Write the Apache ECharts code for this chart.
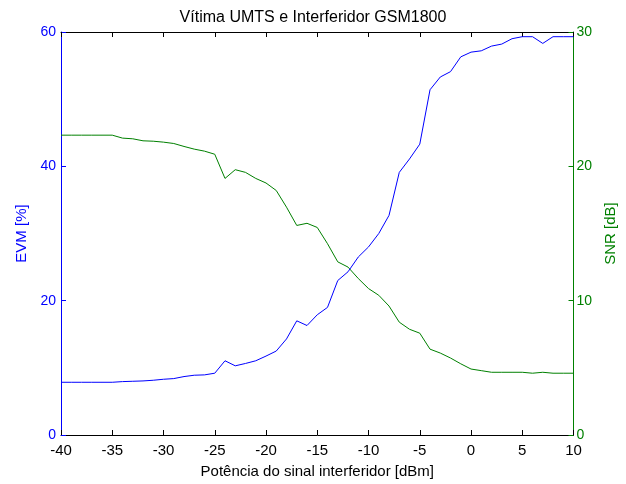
<!DOCTYPE html>
<html>
<head>
<meta charset="utf-8">
<script src="https://cdn.jsdelivr.net/npm/echarts@6/dist/echarts.min.js"></script>
<style>
  html, body { margin: 0; padding: 0; background: #fff; }
  #chart { width: 626px; height: 484px; }
</style>
</head>
<body>
<div id="chart"></div>
<script>
// Interferer power sweep, dBm (1 dB steps)
const power = [-40,-39,-38,-37,-36,-35,-34,-33,-32,-31,-30,-29,-28,-27,-26,-25,-24,-23,-22,-21,-20,
  -19,-18,-17,-16,-15,-14,-13,-12,-11,-10,-9,-8,-7,-6,-5,-4,-3,-2,-1,0,1,2,3,4,5,6,7,8,9,10];

// EVM of the UMTS victim, %
const evm = [7.85,7.85,7.85,7.85,7.85,7.85,7.95,8.0,8.05,8.15,8.3,8.4,8.7,8.9,8.95,9.2,11.05,10.3,10.65,11.05,11.75,
  12.5,14.3,17.0,16.3,17.9,19.0,23.0,24.3,26.5,28.0,30.0,32.7,39.1,41.1,43.3,51.4,53.3,54.1,56.3,57.0,
  57.2,57.9,58.2,59.0,59.3,59.3,58.3,59.3,59.3,59.3];

// SNR of the UMTS victim, dB
const snr = [22.32,22.32,22.32,22.32,22.32,22.32,22.1,22.05,21.9,21.87,21.8,21.7,21.48,21.28,21.13,20.9,19.1,19.75,19.55,19.1,18.76,
  18.2,16.96,15.6,15.76,15.45,14.24,12.89,12.5,11.65,10.9,10.4,9.6,8.4,7.87,7.58,6.39,6.1,5.73,5.3,4.91,
  4.79,4.67,4.67,4.67,4.67,4.6,4.67,4.6,4.6,4.6];

const titleText = 'Vítima UMTS e Interferidor GSM1800';
const xName = 'Potência do sinal interferidor [dBm]';
const yLeftName = 'EVM [%]';
const yRightName = 'SNR [dB]';

const BLUE = '#0000ff';
const GREEN = '#008000';
const FONT = 'Liberation Sans, Arial, sans-serif';

const chart = echarts.init(document.getElementById('chart'), null, { renderer: 'canvas' });

const pairs = (ys) => power.map((x, i) => [x, ys[i]]);

chart.setOption({
  animation: false,
  backgroundColor: '#ffffff',
  textStyle: { fontFamily: FONT },
  title: {
    text: titleText,
    left: 'center',
    top: 5,
    textStyle: { fontFamily: FONT, fontSize: 16, fontWeight: 'normal', color: '#000' }
  },
  grid: { left: 61, right: 47, top: 32, bottom: 45, containLabel: false },
  xAxis: [
    {
      type: 'value', min: -40, max: 10, interval: 5, position: 'bottom',
      name: xName, nameLocation: 'middle', nameGap: 29,
      nameTextStyle: { fontFamily: FONT, fontSize: 15, color: '#000' },
      axisLine: { show: true, onZero: false, lineStyle: { color: '#000', width: 1 } },
      axisTick: { show: true, inside: true, length: 5, lineStyle: { color: '#000' } },
      axisLabel: { fontFamily: FONT, fontSize: 15, color: '#000', margin: 8 },
      splitLine: { show: false }
    },
    {
      type: 'value', min: -40, max: 10, interval: 5, position: 'top',
      axisLine: { show: true, onZero: false, lineStyle: { color: '#000', width: 1 } },
      axisTick: { show: true, inside: true, length: 5, lineStyle: { color: '#000' } },
      axisLabel: { show: false },
      splitLine: { show: false }
    }
  ],
  yAxis: [
    {
      type: 'value', min: 0, max: 60, interval: 20, position: 'left',
      name: yLeftName, nameLocation: 'middle', nameGap: 30, nameRotate: 90,
      nameTextStyle: { fontFamily: FONT, fontSize: 15, color: BLUE },
      axisLine: { show: true, onZero: false, lineStyle: { color: BLUE, width: 1 } },
      axisTick: { show: true, inside: true, length: 5, lineStyle: { color: BLUE } },
      axisLabel: { fontFamily: FONT, fontSize: 14, color: BLUE, margin: 5 },
      splitLine: { show: false }
    },
    {
      type: 'value', min: 0, max: 30, interval: 10, position: 'right',
      name: yRightName, nameLocation: 'middle', nameGap: 25, nameRotate: 90,
      nameTextStyle: { fontFamily: FONT, fontSize: 15, color: GREEN },
      axisLine: { show: true, onZero: false, lineStyle: { color: GREEN, width: 1 } },
      axisTick: { show: true, inside: true, length: 5, lineStyle: { color: GREEN } },
      axisLabel: { fontFamily: FONT, fontSize: 14, color: GREEN, margin: 3 },
      splitLine: { show: false }
    }
  ],
  series: [
    {
      name: yLeftName, type: 'line', xAxisIndex: 0, yAxisIndex: 0,
      data: pairs(evm), showSymbol: false, symbol: 'none',
      lineStyle: { color: BLUE, width: 1 }, z: 3
    },
    {
      name: yRightName, type: 'line', xAxisIndex: 0, yAxisIndex: 1,
      data: pairs(snr), showSymbol: false, symbol: 'none',
      lineStyle: { color: GREEN, width: 1 }, z: 2
    }
  ]
});
</script>
</body>
</html>
